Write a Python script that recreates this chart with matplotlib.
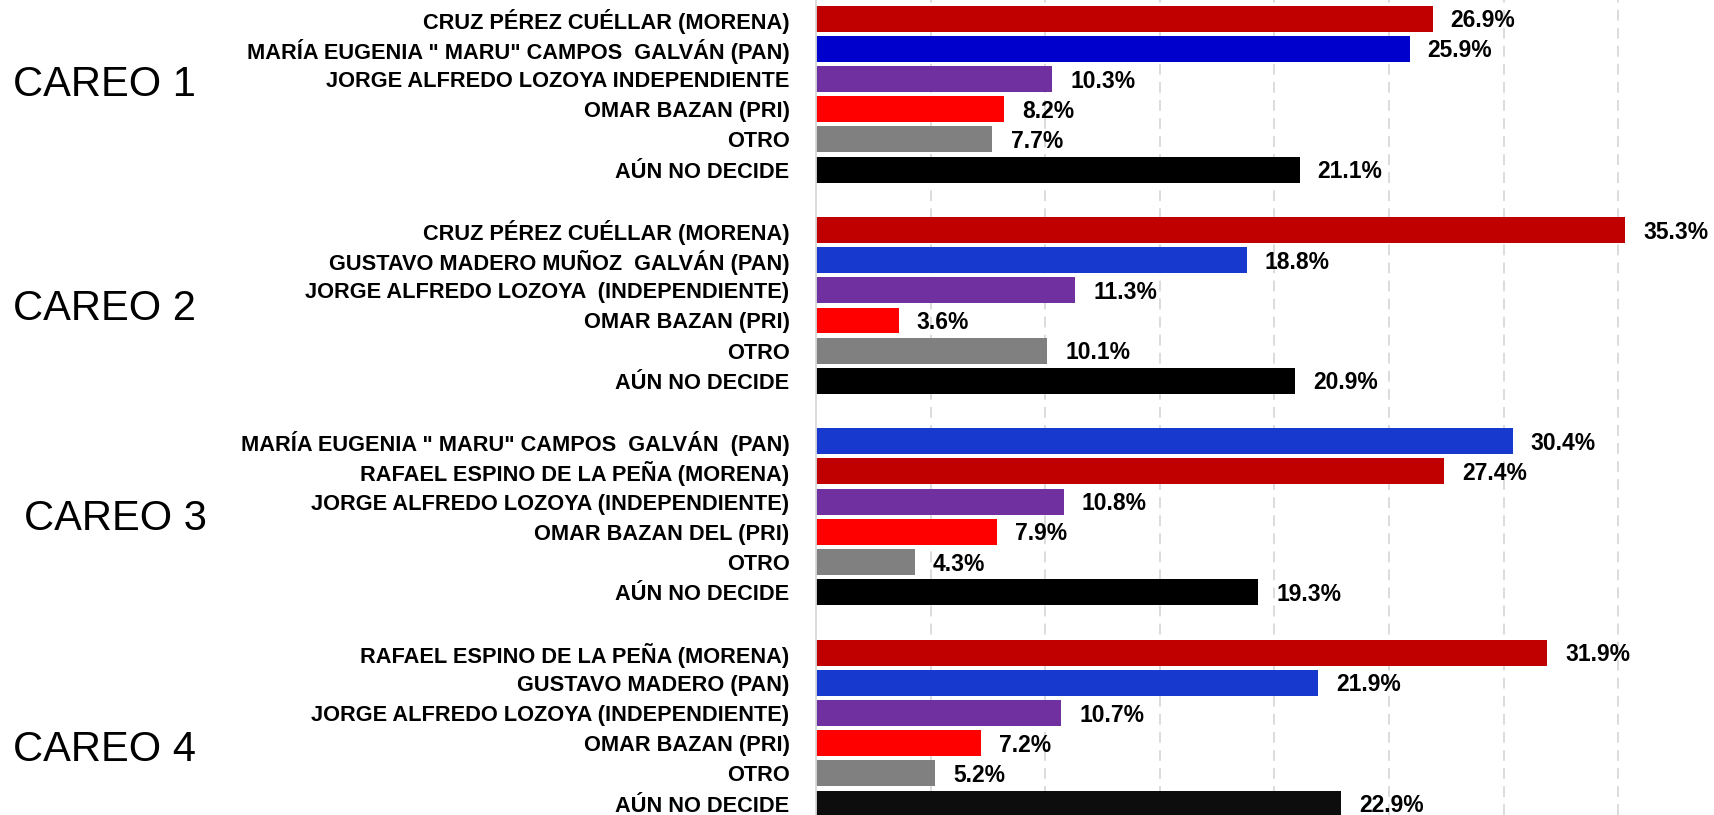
# Careos: barras horizontales por candidato

import matplotlib.pyplot as plt
from matplotlib.transforms import blended_transform_factory

plt.rcParams['font.family'] = ['Liberation Sans Narrow', 'Liberation Sans', 'DejaVu Sans']

careos = ['CAREO 1', 'CAREO 2', 'CAREO 3', 'CAREO 4']

candidatos_1 = ['CRUZ PÉREZ CUÉLLAR (MORENA)',
                'MARÍA EUGENIA " MARU" CAMPOS  GALVÁN (PAN)',
                'JORGE ALFREDO LOZOYA INDEPENDIENTE',
                'OMAR BAZAN (PRI)', 'OTRO', 'AÚN NO DECIDE']
valores_1 = [26.9, 25.9, 10.3, 8.2, 7.7, 21.1]

candidatos_2 = ['CRUZ PÉREZ CUÉLLAR (MORENA)',
                'GUSTAVO MADERO MUÑOZ  GALVÁN (PAN)',
                'JORGE ALFREDO LOZOYA  (INDEPENDIENTE)',
                'OMAR BAZAN (PRI)', 'OTRO', 'AÚN NO DECIDE']
valores_2 = [35.3, 18.8, 11.3, 3.6, 10.1, 20.9]

candidatos_3 = ['MARÍA EUGENIA " MARU" CAMPOS  GALVÁN  (PAN)',
                'RAFAEL ESPINO DE LA PEÑA (MORENA)',
                'JORGE ALFREDO LOZOYA (INDEPENDIENTE)',
                'OMAR BAZAN DEL (PRI)', 'OTRO', 'AÚN NO DECIDE']
valores_3 = [30.4, 27.4, 10.8, 7.9, 4.3, 19.3]

candidatos_4 = ['RAFAEL ESPINO DE LA PEÑA (MORENA)',
                'GUSTAVO MADERO (PAN)',
                'JORGE ALFREDO LOZOYA (INDEPENDIENTE)',
                'OMAR BAZAN (PRI)', 'OTRO', 'AÚN NO DECIDE']
valores_4 = [31.9, 21.9, 10.7, 7.2, 5.2, 22.9]

colores_1 = ['#C00000', '#0000CC', '#7030A0', '#FF0000', '#808080', '#000000']
colores_2 = ['#C00000', '#1739CD', '#7030A0', '#FF0000', '#808080', '#000000']
colores_3 = ['#1739CD', '#C00000', '#7030A0', '#FF0000', '#808080', '#000000']
colores_4 = ['#C00000', '#1739CD', '#7030A0', '#FF0000', '#808080', '#0D0D0D']

grupos = [(candidatos_1, valores_1, colores_1),
          (candidatos_2, valores_2, colores_2),
          (candidatos_3, valores_3, colores_3),
          (candidatos_4, valores_4, colores_4)]

fig = plt.figure(figsize=(17.14, 8.15), dpi=100)
ax = fig.add_axes([816 / 1714, 0, 1 - 816 / 1714, 1])

posiciones = []
etiquetas = []
for g, (nombres, valores, colores) in enumerate(grupos):
    ys = [g * 7 + i for i in range(len(valores))]
    ax.barh(ys, valores, height=0.86, color=colores, zorder=2)
    for y, v in zip(ys, valores):
        ax.annotate(f'{v:.1f}%', xy=(v, y), xytext=(13, -1.5),
                    textcoords='offset points', va='center', ha='left',
                    fontsize=16.5, fontweight='bold', color='black')
    posiciones += ys
    etiquetas += nombres

ax.set_yticks(posiciones)
ax.set_yticklabels(etiquetas, fontsize=15.7, fontweight='bold')
ax.tick_params(axis='y', length=0, pad=19)
ax.tick_params(axis='x', length=0, labelbottom=False)

ax.set_xlim(0, 39.18)
ax.set_ylim(26.38, -0.616)
ax.set_xticks([5, 10, 15, 20, 25, 30, 35])
ax.xaxis.grid(True, color='#D9D9D9', linestyle=(0, (6, 4)), linewidth=1.3)
ax.set_axisbelow(True)

for lado in ['top', 'right', 'bottom']:
    ax.spines[lado].set_visible(False)
ax.spines['left'].set_color('#D9D9D9')
ax.spines['left'].set_linewidth(1.3)

# titulos de cada careo a la izquierda
trans = blended_transform_factory(fig.transFigure, ax.transData)
careo_x = [13, 13, 24, 13]
careo_y = [2.21, 9.63, 16.58, 24.22]
for texto, x, y in zip(careos, careo_x, careo_y):
    ax.text(x / 1714, y, texto, transform=trans, fontsize=30,
            ha='left', va='center', color='black')

plt.savefig('out.png', dpi=100)
